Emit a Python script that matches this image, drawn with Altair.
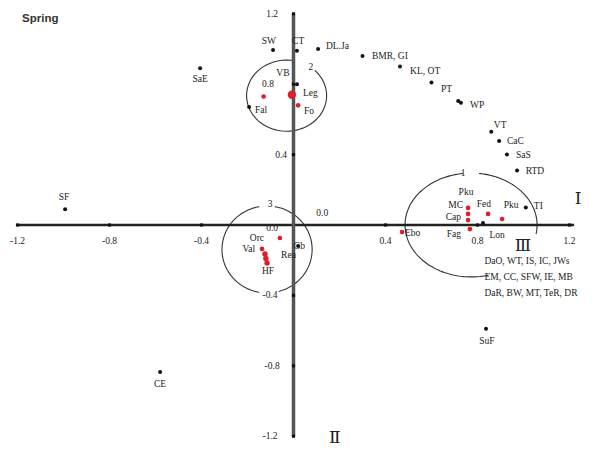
import numpy as np
import pandas as pd
import altair as alt

# ---------------- data ----------------
black_x = [-0.089, 0.015, 0.107, 0.300, 0.463, 0.600, 0.716, 0.728, 0.860, 0.894, 0.928, 0.972, 1.010,
           -0.406, -0.993, -0.580, 0.837, 0.015, 0.824, 0.020, -0.193]
black_y = [0.994, 0.990, 1.000, 0.960, 0.900, 0.810, 0.705, 0.695, 0.530, 0.477, 0.400, 0.310, 0.100,
           0.890, 0.090, -0.835, -0.590, 0.800, 0.011, -0.119, 0.670]

red_x = [-0.007, 0.020, -0.130, 0.759, 0.759, 0.759, 0.767, 0.846, 0.907, 0.472,
         -0.059, -0.137, -0.124, -0.120, -0.115]
red_y = [0.740, 0.680, 0.730, 0.097, 0.063, 0.028, -0.023, 0.063, 0.034, -0.040,
         -0.074, -0.136, -0.165, -0.190, -0.216]
red_size = [70, 22, 22, 22, 22, 22, 22, 22, 22, 22, 22, 22, 30, 30, 30]

left_text = ["DL.Ja", "BMR, GI", "KL, OT", "PT", "WP", "VT", "CaC", "SaS", "RTD", "TI",
             "Leg", "Fo", "Fal", "Ebo", "Rea",
             "DaO, WT, IS, IC, JWs", "EM, CC, SFW, IE, MB", "DaR, BW, MT, TeR, DR"]
left_x = [0.141, 0.341, 0.507, 0.641, 0.767, 0.871, 0.928, 0.967, 1.010, 1.045,
          0.041, 0.046, -0.167, 0.485, -0.054,
          0.830, 0.830, 0.830]
left_y = [1.017, 0.960, 0.875, 0.773, 0.682, 0.568, 0.477, 0.400, 0.307, 0.108,
          0.750, 0.648, 0.653, -0.045, -0.170,
          -0.205, -0.295, -0.386]

center_text = ["SW", "CT", "SaE", "SF", "CE", "SuF", "VB", "Pku", "Fed", "Pku", "Lon",
               "Orc", "HF", "Gb", "1", "2", "3", "0.0", "0.0"]
center_x = [-0.107, 0.020, -0.406, -0.998, -0.580, 0.841, -0.046, 0.750, 0.828, 0.946, 0.885,
            -0.159, -0.111, 0.025, 0.737, 0.076, -0.102, 0.125, -0.093]
center_y = [1.045, 1.045, 0.830, 0.159, -0.903, -0.659, 0.864, 0.188, 0.119, 0.114, -0.057,
            -0.074, -0.261, -0.120, 0.295, 0.898, 0.119, 0.068, -0.017]

right_text = ["MC", "Cap", "Fag", "Val"]
right_x = [0.737, 0.728, 0.728, -0.167]
right_y = [0.114, 0.045, -0.050, -0.136]

xtick_vals = [-1.2, -0.8, -0.4, 0.4, 0.8, 1.2]
xtick_labels = ["-1.2", "-0.8", "-0.4", "0.4", "0.8", "1.2"]
ytick_vals = [1.2, 0.8, 0.4, -0.4, -0.8, -1.2]
ytick_labels = ["1.2", "0.8", "0.4", "-0.4", "-0.8", "-1.2"]
ytick_label_x = [-0.093, -0.111, -0.054, -0.102, -0.093, -0.102]

roman_text = ["Ⅰ", "Ⅱ", "Ⅲ"]
roman_x = [1.237, 0.180, 0.998]
roman_y = [0.148, -1.210, -0.119]

circle_cx = [0.772, -0.030, -0.115]
circle_cy = [0.000, 0.735, -0.139]
circle_rx = [0.287, 0.174, 0.196]
circle_ry = [0.295, 0.202, 0.247]
circle_arcs = [[(97, 285), (350, 443)], [(80, 405)], [(100, 260), (285, 440)]]

# ---------------- frames ----------------
XS = alt.Scale(domain=[-1.2413, 1.3065], nice=False, zero=False)
YS = alt.Scale(domain=[-1.2386, 1.2273], nice=False, zero=False)

def X(f="x"):
    return alt.X(f"{f}:Q", scale=XS, axis=None)

def Y(f="y"):
    return alt.Y(f"{f}:Q", scale=YS, axis=None)

rows = []
seg = 0
for cx, cy, rx, ry, arcs in zip(circle_cx, circle_cy, circle_rx, circle_ry, circle_arcs):
    for a0, a1 in arcs:
        for i, a in enumerate(np.linspace(a0, a1, 80)):
            t = np.deg2rad(a)
            rows.append({"seg": seg, "o": i, "x": cx + rx * np.cos(t), "y": cy + ry * np.sin(t)})
        seg += 1
circ_df = pd.DataFrame(rows)

hax = pd.DataFrame({"x": [-1.2], "x2": [1.22], "y": [0.0]})
vax = pd.DataFrame({"x": [0.0], "y": [-1.2], "y2": [1.2]})
ticks = pd.DataFrame({"x": xtick_vals + [0.0] * len(ytick_vals),
                      "y": [0.0] * len(xtick_vals) + ytick_vals})

black_df = pd.DataFrame({"x": black_x, "y": black_y})
red_df = pd.DataFrame({"x": red_x, "y": red_y, "s": red_size})
left_df = pd.DataFrame({"t": left_text, "x": left_x, "y": left_y})
center_df = pd.DataFrame({"t": center_text, "x": center_x, "y": center_y})
right_df = pd.DataFrame({"t": right_text, "x": right_x, "y": right_y})
xt_df = pd.DataFrame({"t": xtick_labels, "x": xtick_vals, "y": [-0.091] * len(xtick_vals)})
yt_df = pd.DataFrame({"t": ytick_labels, "x": ytick_label_x, "y": ytick_vals})
rom_df = pd.DataFrame({"t": roman_text, "x": roman_x, "y": roman_y})
title_df = pd.DataFrame({"t": ["Spring"], "x": [-1.18], "y": [1.173]})

SERIF = "Liberation Serif"

circles = alt.Chart(circ_df).mark_line(color="#333", strokeWidth=1.1).encode(
    x=X(), y=Y(), detail="seg:N", order="o:Q")
hline = alt.Chart(hax).mark_rule(color="#222", strokeWidth=2.5).encode(x=X(), x2="x2:Q", y=Y())
vline = alt.Chart(vax).mark_rule(color="#555", strokeWidth=3.5).encode(x=X(), y=Y(), y2="y2:Q")
tickm = alt.Chart(ticks).mark_point(shape="square", filled=True, color="#111", size=10, opacity=1).encode(x=X(), y=Y())
blk = alt.Chart(black_df).mark_circle(color="#111", size=16, opacity=1).encode(x=X(), y=Y())
red = alt.Chart(red_df).mark_circle(color="#e01e2a", opacity=1).encode(
    x=X(), y=Y(), size=alt.Size("s:Q", scale=None, legend=None))

def txt(df, align, size=9.5, font=SERIF, weight="normal", color="#222"):
    return alt.Chart(df).mark_text(align=align, baseline="middle", font=font, fontSize=size,
                                   fontWeight=weight, color=color).encode(x=X(), y=Y(), text="t:N")

chart = alt.layer(
    circles, hline, vline, tickm, blk, red,
    txt(left_df, "left"), txt(center_df, "center"), txt(right_df, "right"),
    txt(xt_df, "center"), txt(yt_df, "center"),
    txt(rom_df, "center", size=17, font="DejaVu Serif"),
    txt(title_df, "left", size=11.5, font="Liberation Sans", weight="bold", color="#333"),
).properties(width=586, height=434, padding=0).configure_view(stroke=None)

chart.save("out.html", embed_options={"renderer": "svg", "actions": False})
